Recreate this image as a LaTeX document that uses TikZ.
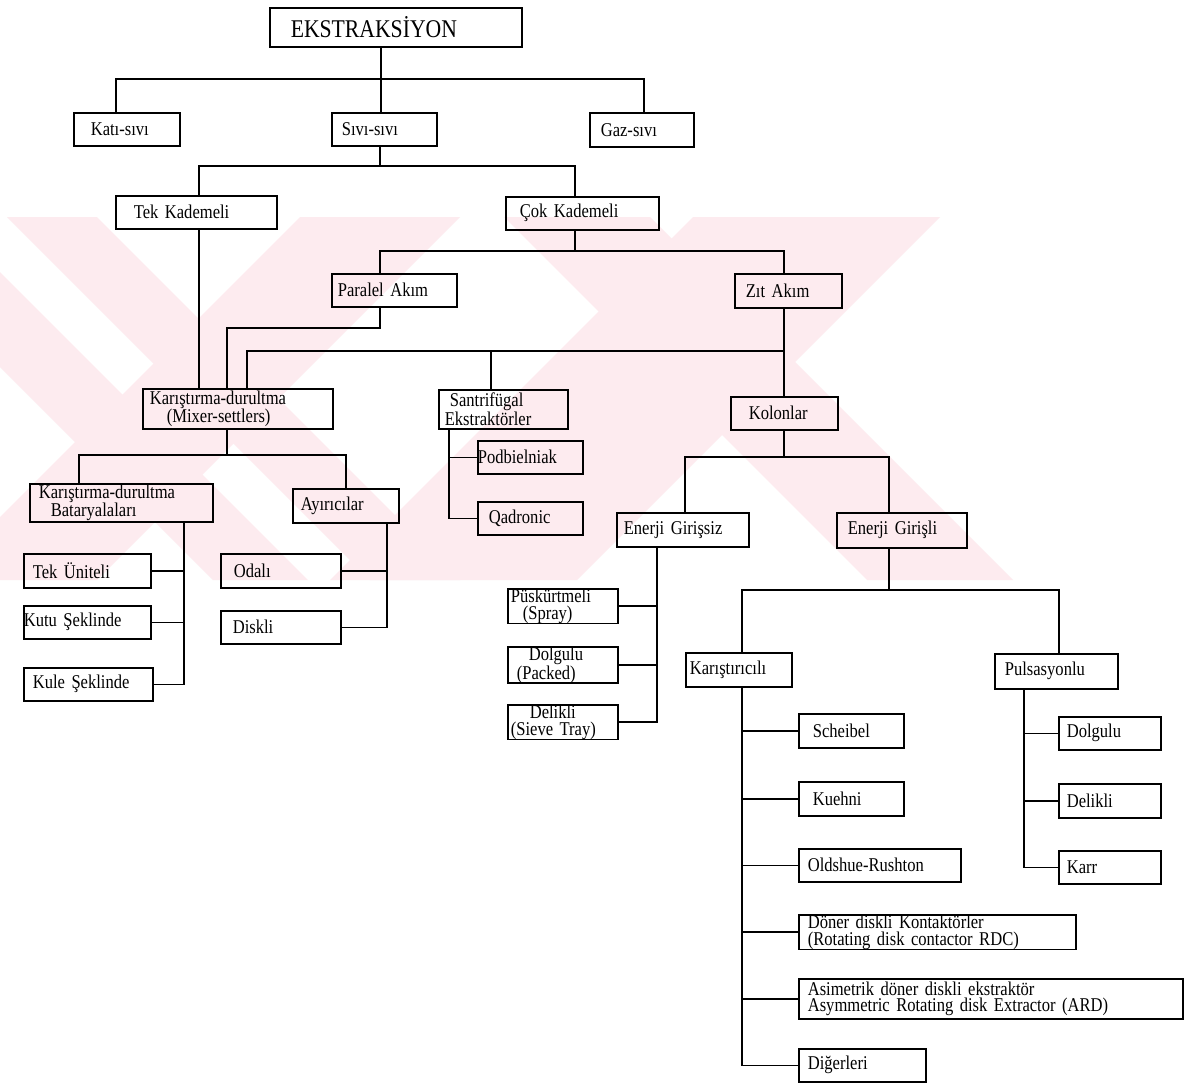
\documentclass[tikz,border=0pt]{standalone}
\usepackage{fontspec}
\setmainfont{Liberation Serif}
\newfontfamily\scanfont{Liberation Serif}[FakeStretch=0.85]
\newcommand\boxfont{\scanfont\fontsize{19.5}{16.8}\selectfont\spaceskip 3pt plus 1pt minus 0.5pt\relax}
\definecolor{wmark}{RGB}{253,235,239}
\tikzset{
  bx/.style={draw, line width=1.6pt, anchor=north west, inner ysep=0pt,
    align=left, font=\boxfont},
  link/.style={line width=1.6pt},
  wm/.style={fill=wmark, draw=none},
}
% box: name, x1, y1, x2, y2, left padding, text
\newcommand\bx[7]{%
  \pgfmathsetmacro\bxw{#4-#2-2*#6}%
  \pgfmathsetmacro\bxh{#5-#3}%
  \node[bx, inner xsep=#6pt, text width=\bxw pt, minimum height=\bxh pt] (#1) at (#2,#3) {#7};}
\begin{document}
\begin{tikzpicture}[x=1pt,y=-1pt]
\useasboundingbox (0,0) rectangle (1200,1084);
\fill[white] (0,0) rectangle (1200,1084);

% pale striped emblem behind the chart
\begin{scope}
  \clip (0,217) rectangle (1200,580);
  \fill[wm] (-150,217) -- (-55,217) -- (308,580) -- (213,580) -- cycle;
  \fill[wm] (7,217) -- (97,217) -- (460,580) -- (370,580) -- cycle;
  \fill[wm] (300,217) -- (460,217) -- (97,580) -- (-63,580) -- cycle;
  \fill[wm] (504,217) -- (650,217) -- (1013,580) -- (867,580) -- cycle;
  \fill[wm] (693,217) -- (940,217) -- (577,580) -- (330,580) -- cycle;
\end{scope}

% boxes
\bx{root}{269}{7}{521}{46}{21}{\fontsize{25.5}{26}\selectfont EKSTRAKSİYON}
\bx{kati}{73}{112}{179}{145}{17}{Katı-sıvı}
\bx{sivi}{331}{112}{436}{145}{10}{Sıvı-sıvı}
\bx{gaz}{589}{112}{693}{146}{11}{Gaz-sıvı}
\bx{tek}{115}{195}{276}{228}{18}{Tek Kademeli}
\bx{cok}{505}{196}{658}{229}{14}{Çok Kademeli}
\bx{paralel}{331}{273}{456}{306}{6}{Paralel Akım}
\bx{zit}{734}{273}{841}{307}{11}{Zıt Akım}
\bx{mixer}{142}{388}{332}{428}{7}{Karıştırma-durultma\\\hspace*{17pt}(Mixer-settlers)}
\bx{santri}{438}{389}{567}{428}{6}{\hspace*{5pt}Santrifügal\\Ekstraktörler}
\bx{kolon}{730}{396}{837}{429}{18}{Kolonlar}
\bx{batt}{29}{483}{212}{521}{9}{Karıştırma-durultma\\\hspace*{12pt}Bataryalaları}
\bx{ayir}{292}{488}{398}{522}{8}{Ayırıcılar}
\bx{podb}{477}{440}{582}{473}{0}{Podbielniak}
\bx{qadr}{477}{501}{582}{534}{11}{Qadronic}
\bx{tekun}{23}{553}{150}{587}{9}{Tek Üniteli}
\bx{kutu}{23}{605}{150}{638}{0}{Kutu Şeklinde}
\bx{kule}{23}{667}{152}{700}{9}{Kule Şeklinde}
\bx{odali}{220}{553}{340}{587}{13}{Odalı}
\bx{diskli}{220}{610}{340}{643}{12}{Diskli}
\bx{girsiz}{616}{512}{748}{546}{7}{Enerji Girişsiz}
\bx{girli}{836}{512}{966}{547}{11}{Enerji Girişli}
\bx{pusk}{507}{588}{617}{622}{3}{Püskürtmeli\\\hspace*{12pt}(Spray)}
\bx{dolgA}{507}{646}{617}{680}{9}{\hspace*{12pt}Dolgulu\\(Packed)}
\bx{delikA}{507}{704}{617}{737}{3}{\hspace*{19pt}Delikli\\(Sieve Tray)}
\bx{karis}{685}{652}{791}{686}{4}{Karıştırıcılı}
\bx{puls}{994}{653}{1117}{688}{10}{Pulsasyonlu}
\bx{scheibel}{798}{713}{903}{747}{14}{Scheibel}
\bx{kuehni}{798}{781}{903}{815}{14}{Kuehni}
\bx{oldshue}{798}{848}{960}{881}{9}{Oldshue-Rushton}
\bx{doner}{798}{914}{1075}{948}{9}{Döner diskli Kontaktörler\\(Rotating disk contactor RDC)}
\bx{asim}{798}{978}{1182}{1018}{9}{Asimetrik döner diskli ekstraktör\\Asymmetric Rotating disk Extractor (ARD)}
\bx{diger}{798}{1048}{925}{1081}{9}{Diğerleri}
\bx{dolgB}{1058}{716}{1160}{749}{8}{Dolgulu}
\bx{delikB}{1058}{783}{1160}{817}{8}{Delikli}
\bx{karr}{1058}{850}{1160}{883}{8}{Karr}

% connectors
\begin{scope}[link]
  % EKSTRAKSİYON
  \coordinate (r0) at (381,79);
  \coordinate (k0) at (116,79);
  \coordinate (g0) at (644,79);
  \draw (root.south -| r0) -- (r0 |- sivi.north);
  \draw (k0 |- kati.north) -- (k0) -- (g0) -- (g0 |- gaz.north);
  % Sıvı-sıvı
  \coordinate (s0) at (380,166);
  \coordinate (s1) at (199,166);
  \coordinate (s2) at (575,166);
  \draw (sivi.south -| s0) -- (s0);
  \draw (s1 |- tek.north) -- (s1) -- (s2) -- (s2 |- cok.north);
  % Çok Kademeli
  \coordinate (c1) at (380,251);
  \coordinate (c2) at (784,251);
  \draw (cok.south -| s2) -- (s2 |- c1);
  \draw (c1 |- paralel.north) -- (c1) -- (c2) -- (c2 |- zit.north);
  % Tek Kademeli
  \draw (tek.south -| s1) -- (s1 |- mixer.north);
  % Paralel Akım
  \coordinate (p1) at (227,328);
  \draw (paralel.south -| c1) -- (c1 |- p1) -- (p1) -- (p1 |- mixer.north);
  % Zıt Akım
  \coordinate (z1) at (247,351);
  \coordinate (z2) at (491,351);
  \draw (zit.south -| c2) -- (c2 |- kolon.north);
  \draw (z1 |- mixer.north) -- (z1) -- (c2 |- z1);
  \draw (z2) -- (z2 |- santri.north);
  % Mixer-settlers
  \coordinate (m0) at (227,455);
  \coordinate (m1) at (79,455);
  \coordinate (m2) at (346,455);
  \draw (mixer.south -| m0) -- (m0);
  \draw (m1 |- batt.north) -- (m1) -- (m2) -- (m2 |- ayir.north);
  % Bataryalar
  \coordinate (bv) at (184,0);
  \draw (batt.south -| bv) -- (bv |- kule.east) -- (kule.east);
  \draw (tekun.east) -- (bv |- tekun.east);
  \draw (kutu.east) -- (bv |- kutu.east);
  % Ayırıcılar
  \coordinate (av) at (387,0);
  \draw (ayir.south -| av) -- (av |- diskli.east) -- (diskli.east);
  \draw (odali.east) -- (av |- odali.east);
  % Santrifügal
  \coordinate (sv) at (449,0);
  \draw (santri.south -| sv) -- (sv |- qadr.west) -- (qadr.west);
  \draw (sv |- podb.west) -- (podb.west);
  % Kolonlar
  \coordinate (k1) at (685,457);
  \coordinate (k2) at (889,457);
  \draw (kolon.south -| c2) -- (c2 |- k1);
  \draw (k1 |- girsiz.north) -- (k1) -- (k2) -- (k2 |- girli.north);
  % Enerji Girişsiz
  \coordinate (gv) at (657,0);
  \draw (girsiz.south -| gv) -- (gv |- delikA.east) -- (delikA.east);
  \draw (pusk.east) -- (gv |- pusk.east);
  \draw (dolgA.east) -- (gv |- dolgA.east);
  % Enerji Girişli
  \coordinate (e1) at (742,590);
  \coordinate (e2) at (1059,590);
  \draw (girli.south -| k2) -- (k2 |- e1);
  \draw (e1 |- karis.north) -- (e1) -- (e2) -- (e2 |- puls.north);
  % Karıştırıcılı
  \draw (karis.south -| e1) -- (e1 |- diger.west) -- (diger.west);
  \foreach \n in {scheibel,kuehni,oldshue,doner,asim}
    \draw (e1 |- \n.west) -- (\n.west);
  % Pulsasyonlu
  \coordinate (uv) at (1024,0);
  \draw (puls.south -| uv) -- (uv |- karr.west) -- (karr.west);
  \draw (uv |- dolgB.west) -- (dolgB.west);
  \draw (uv |- delikB.west) -- (delikB.west);
\end{scope}
\end{tikzpicture}
\end{document}
